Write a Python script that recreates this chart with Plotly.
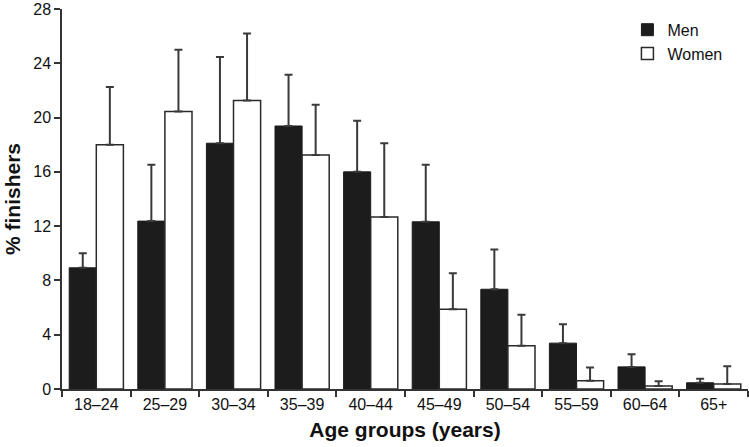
import plotly.graph_objects as go

categories = ["18–24", "25–29", "30–34", "35–39", "40–44", "45–49", "50–54", "55–59", "60–64", "65+"]
men = [8.93, 12.37, 18.11, 19.38, 16.0, 12.32, 7.35, 3.38, 1.63, 0.46]
men_err_top = [10.0, 16.53, 24.47, 23.15, 19.77, 16.53, 10.27, 4.77, 2.56, 0.75]
women = [18.0, 20.45, 21.25, 17.24, 12.68, 5.87, 3.18, 0.61, 0.22, 0.37]
women_err_top = [22.25, 25.0, 26.2, 20.94, 18.11, 8.52, 5.48, 1.58, 0.58, 1.68]
y_ticks = [0, 4, 8, 12, 16, 20, 24, 28]

men_plus = [t - v for t, v in zip(men_err_top, men)]
women_plus = [t - v for t, v in zip(women_err_top, women)]

FONT = "Liberation Sans, Arial, sans-serif"
EC = "#3a3a3a"

fig = go.Figure()
fig.add_trace(go.Bar(
    name="Men", x=categories, y=men,
    marker=dict(color="#1c1c1c", line=dict(color="#1c1c1c", width=1)),
    error_y=dict(type="data", symmetric=False, array=men_plus, arrayminus=[0]*len(men),
                 color=EC, thickness=2, width=4),
))
fig.add_trace(go.Bar(
    name="Women", x=categories, y=women,
    marker=dict(color="white", line=dict(color="#2a2a2a", width=1.5)),
    error_y=dict(type="data", symmetric=False, array=women_plus, arrayminus=[0]*len(women),
                 color=EC, thickness=2, width=4),
))

fig.update_layout(
    width=749, height=447,
    margin=dict(l=62, r=1, t=9, b=58, autoexpand=False),
    paper_bgcolor="white", plot_bgcolor="white",
    barmode="group", bargap=0.21, bargroupgap=0,
    font=dict(family=FONT, size=16, color="#111"),
    showlegend=True,
    legend=dict(x=0.97, y=0.99, xanchor="right", yanchor="top",
                font=dict(size=16, family=FONT), bgcolor="rgba(0,0,0,0)",
                itemwidth=30, tracegroupgap=2),
    annotations=[dict(
        text="<b>% finishers</b>", textangle=-90, xref="paper", yref="paper",
        x=-50 / 686, y=0.5, xanchor="center", yanchor="middle", showarrow=False,
        font=dict(size=21, family=FONT, color="#111"),
    )],
)
fig.update_xaxes(
    range=[-0.5, 9.5], showline=True, linecolor="#333", linewidth=1.5,
    ticks="outside", tickson="boundaries", ticklen=6, tickcolor="#333", tickwidth=1.5,
    tickfont=dict(size=16, family=FONT), automargin=False,
    title=dict(text="<b>Age groups (years)</b>", font=dict(size=21, family=FONT), standoff=10),
    showgrid=False, zeroline=False, fixedrange=True,
)
fig.update_yaxes(
    range=[0, 28], tickvals=y_ticks, showline=True, linecolor="#333", linewidth=1.5,
    ticks="outside", ticklen=6, tickcolor="#333", tickwidth=1.5,
    tickfont=dict(size=16, family=FONT), automargin=False, ticklabeloverflow="allow",
    showgrid=False, zeroline=False, fixedrange=True,
)

fig.write_html("out.html", config={"displayModeBar": False},
               post_script="document.body.style.margin='0';document.body.style.overflow='hidden';")
